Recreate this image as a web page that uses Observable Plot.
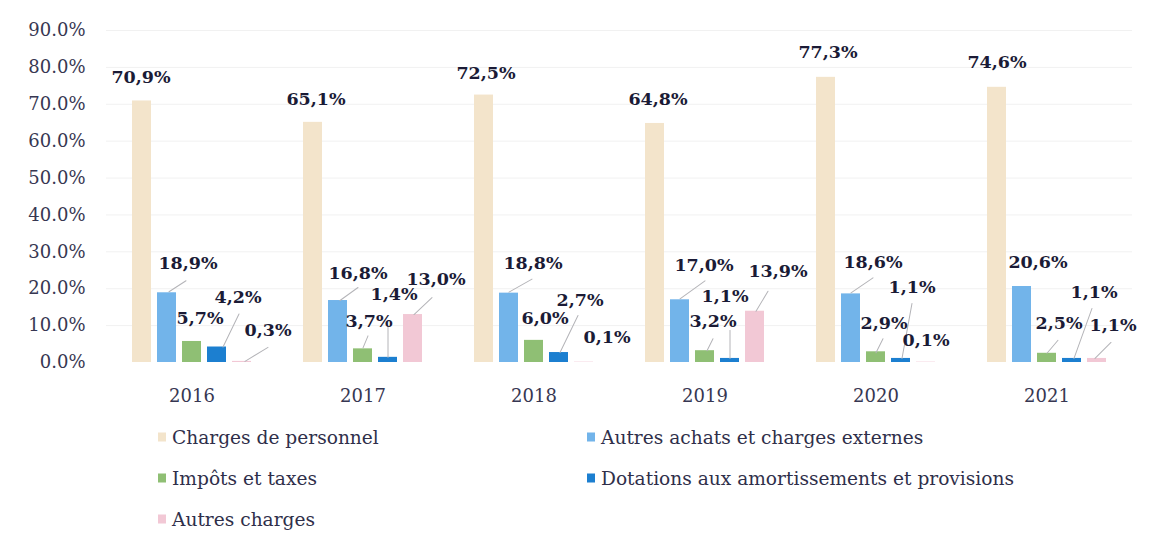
<!DOCTYPE html>
<html>
<head>
<meta charset="utf-8">
<script src="https://cdn.jsdelivr.net/npm/d3@7"></script>
<script src="https://cdn.jsdelivr.net/npm/@observablehq/plot@0.6"></script>
<style>
  body { margin: 0; background: #ffffff; font-family: "DejaVu Serif", serif; }
  #wrap { position: relative; width: 1163px; height: 542px; overflow: hidden; }
  #legend { position: absolute; left: 0; top: 0; width: 1163px; height: 542px; pointer-events: none; }
  .item { position: absolute; display: flex; align-items: center; font-size: 18.6px; color: #2f2f4a; white-space: nowrap; transform: translateY(-50%); }
  .sw { width: 8px; height: 9px; margin-right: 6px; }
</style>
</head>
<body>
<div id="wrap"><div id="chart"></div><div id="legend"></div></div>
<script>
// ---- data ----
const years = ["2016", "2017", "2018", "2019", "2020", "2021"];
const series = [
  "Charges de personnel",
  "Autres achats et charges externes",
  "Impôts et taxes",
  "Dotations aux amortissements et provisions",
  "Autres charges"
];
const chargesPersonnel = [70.9, 65.1, 72.5, 64.8, 77.3, 74.6];
const autresAchats     = [18.9, 16.8, 18.8, 17.0, 18.6, 20.6];
const impotsTaxes      = [5.7, 3.7, 6.0, 3.2, 2.9, 2.5];
const dotations        = [4.2, 1.4, 2.7, 1.1, 1.1, 1.1];
const autresCharges    = [0.3, 13.0, 0.1, 13.9, 0.1, 1.1];
const yTicks = [0, 10, 20, 30, 40, 50, 60, 70, 80, 90];

// ---- styles ----
const colors = ["#f3e4cb", "#72b4ea", "#8fbf74", "#1c7fd0", "#f2c8d5"];

// label placement (pixel offsets from bar-top centre): [dx, dy], leader [sx, sy, ex, ey]
const labelLayout = [
  // 2016
  [[[-1,-24],null],[[21,-29],[2,-1,19,-12]],[[8,-23],null],[[21,-50],[6,0,22,-33]],[[26,-31],[3,0,26,-14]]],
  // 2017
  [[[3,-23],null],[[20,-27],[2,0,20,-13]],[[6,-27],[0,-1,5,-13]],[[6,-63],[0,0,0,-31]],[[23,-35],[1,0,19,-17]]],
  // 2018
  [[[2,-22],null],[[24,-30],[0,-1,23,-14]],[[11,-22],null],[[21,-52],[1,0,19,-37]],[[23,-25],null]],
  // 2019
  [[[3,-24],null],[[24,-34],[0,-1,25,-19]],[[8,-29],[2,0,8,-12]],[[-5,-62],[0,0,0,-28]],[[23,-40],[1,0,13,-20]]],
  // 2020
  [[[2,-25],null],[[22,-31],[0,-1,22,-16]],[[8,-28],[0,1,7,-13]],[[11,-71],[1,0,11,-55]],[[0,-22],null]],
  // 2021
  [[[0,-25],null],[[16,-24],null],[[12,-30],[0,0,11,-13]],[[22,-66],[2,0,20,-50]],[[16,-33],[-2,0,14,-16]]]
];

const seriesValues = [chargesPersonnel, autresAchats, impotsTaxes, dotations, autresCharges];
const data = years.flatMap((year, i) =>
  series.map((s, j) => ({ year, series: s, value: seriesValues[j][i], yi: i, si: j }))
);
const fmt = v => v.toFixed(1).replace(".", ",") + "%";

const line = { draw(context, l) { context.moveTo(0, 0); context.lineTo(0, -l); } };

const leaderMarks = [];
const labelMarks = [];
for (const d of data) {
  const [[dx, dy], leader] = labelLayout[d.yi][d.si];
  if (leader) {
    const [sx, sy, ex, ey] = leader;
    const vx = ex - sx, vy = ey - sy;
    leaderMarks.push(Plot.vector([d], {
      fx: "year", x: "series", y: "value",
      dx: sx, dy: sy,
      length: Math.hypot(vx, vy),
      rotate: Math.atan2(vx, -vy) * 180 / Math.PI,
      anchor: "start", shape: line,
      stroke: "#b4b4b8", strokeWidth: 1
    }));
  }
  labelMarks.push(Plot.text([d], {
    fx: "year", x: "series", y: "value",
    text: dd => fmt(dd.value),
    dx, dy, lineAnchor: "middle", textAnchor: "middle",
    fontWeight: "bold", fontSize: 17.5, fill: "#1b1b36",
    fontFamily: "DejaVu Serif"
  }));
}

const chart = Plot.plot({
  width: 1163,
  height: 410,
  marginLeft: 104,
  marginRight: 30,
  marginTop: 30,
  marginBottom: 48,
  style: { fontFamily: "DejaVu Serif", fontSize: "18px", color: "#373752", background: "transparent" },
  fx: { domain: years, padding: 0, label: null, tickSize: 0, tickPadding: 27, axis: "bottom" },
  x: { domain: series, paddingInner: 0.23, paddingOuter: 0.91, axis: null },
  y: { domain: [0, 90], ticks: yTicks, tickFormat: d => d.toFixed(1) + "%", tickSize: 0, tickPadding: 21, label: null },
  color: { domain: series, range: colors },
  marks: [
    Plot.ruleY(yTicks.slice(1), { stroke: "#f1f1f1", strokeWidth: 1 }),
    Plot.barY(data, { fx: "year", x: "series", y: "value", fill: "series" }),
    ...leaderMarks,
    ...labelMarks
  ]
});
document.getElementById("chart").appendChild(chart);

// legend (HTML, below the SVG)
const legendPos = [[158, 437], [587, 437], [158, 478], [587, 478], [158, 519]];
const legend = document.getElementById("legend");
series.forEach((s, i) => {
  const el = document.createElement("div");
  el.className = "item";
  el.style.left = legendPos[i][0] + "px";
  el.style.top = legendPos[i][1] + "px";
  const sw = document.createElement("span");
  sw.className = "sw";
  sw.style.background = colors[i];
  el.appendChild(sw);
  el.appendChild(document.createTextNode(s));
  legend.appendChild(el);
});
</script>
</body>
</html>
